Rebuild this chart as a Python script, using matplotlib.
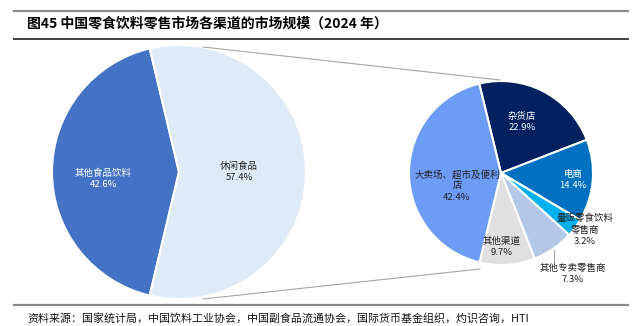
import matplotlib
matplotlib.use("Agg")
import matplotlib.pyplot as plt

plt.rcParams['font.family'] = ['Noto Sans CJK SC', 'DejaVu Sans']

# data
big_labels = ["其他食品饮料", "休闲食品"]
big_values = [42.6, 57.4]
big_colors = ["#4472C4", "#DEEAF6"]

small_labels = ["杂货店", "电商", "量贩零食饮料\n零售商", "其他专卖零售商",
                "其他渠道", "大卖场、超市及便利\n店"]
small_values = [22.9, 14.4, 3.2, 7.3, 9.7, 42.4]
small_colors = ["#002060", "#0070C0", "#00B0F0", "#B4C7E7", "#E0E0E0", "#6C9CF5"]

title = "图45 中国零食饮料零售市场各渠道的市场规模（2024 年）"
source = "资料来源：国家统计局，中国饮料工业协会，中国副食品流通协会，国际货币基金组织，灼识咨询，HTI"

W, H = 644, 326


def py(y):
    # pixel row (from top) -> data y
    return H - y


def main():
    fig = plt.figure(figsize=(W / 100, H / 100), dpi=100)
    ax = fig.add_axes([0, 0, 1, 1])

    #big pie
    ax.pie(big_values, colors=big_colors, startangle=103.3, center=(179, py(172)),
           radius=127, wedgeprops=dict(edgecolor="white", linewidth=1.5))

    #small pie
    ax.pie(small_values, colors=small_colors, startangle=103.7, counterclock=False,
           center=(501, py(173)), radius=92,
           wedgeprops=dict(edgecolor="white", linewidth=1.5))

    ax.set_xlim(0, W)
    ax.set_ylim(0, H)
    ax.set_aspect("auto")
    ax.axis("off")

    #connector lines
    ax.plot([203, 500], [py(47), py(80)], color="#A6A6A6", lw=0.8)
    ax.plot([203, 480], [py(299), py(269)], color="#A6A6A6", lw=0.8)

    #labels big pie
    fs = 6.8
    txt = lambda x, y, s, c: ax.text(x, py(y), s, color=c, fontsize=fs,
                                     ha="center", va="center", linespacing=1.35)
    txt(103, 179, f"{big_labels[0]}\n{big_values[0]}%", "white")
    txt(239, 172, f"{big_labels[1]}\n{big_values[1]}%", "#222222")

    #labels small pie
    txt(522, 122, f"{small_labels[0]}\n{small_values[0]}%", "white")
    txt(573, 180, f"{small_labels[1]}\n{small_values[1]}%", "white")
    txt(585, 230, f"{small_labels[2]}\n{small_values[2]}%", "#222222")
    txt(573, 274, f"{small_labels[3]}\n{small_values[3]}%", "#222222")
    txt(502, 247, f"{small_labels[4]}\n{small_values[4]}%", "#222222")
    txt(457, 186, f"{small_labels[5]}\n{small_values[5]}%", "#222222")
    ax.plot([554, 554], [py(250), py(262)], color="#A6A6A6", lw=0.8)

    #title, rules, source
    ax.plot([14, 628], [py(11), py(11)], color="#8C8C8C", lw=1.6)
    ax.plot([14, 628], [py(38.5), py(38.5)], color="#404040", lw=1.4)
    ax.plot([14, 628], [py(305), py(305)], color="#8C8C8C", lw=1.6)
    ax.text(27, py(24), title, fontsize=10, fontweight="bold", ha="left", va="center")
    ax.text(27, py(318), source, fontsize=7.9, ha="left", va="center", color="#111111")

    fig.savefig("out.png", dpi=100)


if __name__ == "__main__":
    main()
